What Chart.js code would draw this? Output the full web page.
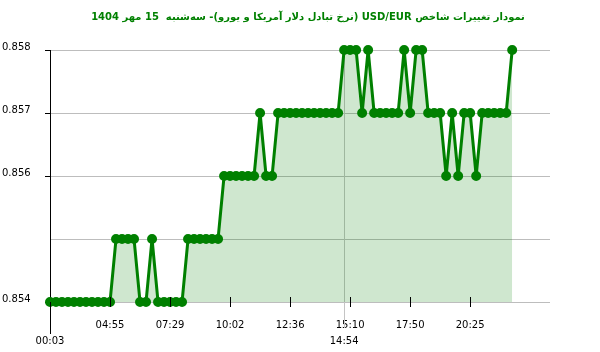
<!DOCTYPE html>
<html>
<head>
<meta charset="utf-8">
<script src="https://cdn.jsdelivr.net/npm/chart.js@4/dist/chart.umd.min.js"></script>
<style>
  html, body { margin: 0; padding: 0; background: #fff; }
  #wrap { width: 600px; height: 352px; }
</style>
</head>
<body>
<div id="wrap"><canvas id="usdEurChart"></canvas></div>
<script>
// values, one point per sample
var rates = [
  0.854, 0.854, 0.854, 0.854, 0.854, 0.854, 0.854, 0.854, 0.854, 0.854, 0.854,
  0.855, 0.855, 0.855, 0.855,
  0.854, 0.854,
  0.855,
  0.854, 0.854, 0.854, 0.854, 0.854,
  0.855, 0.855, 0.855, 0.855, 0.855, 0.855,
  0.856, 0.856, 0.856, 0.856, 0.856, 0.856,
  0.857,
  0.856, 0.856,
  0.857, 0.857, 0.857, 0.857, 0.857, 0.857, 0.857, 0.857, 0.857, 0.857, 0.857,
  0.858, 0.858, 0.858,
  0.857,
  0.858,
  0.857, 0.857, 0.857, 0.857, 0.857,
  0.858,
  0.857,
  0.858, 0.858,
  0.857, 0.857, 0.857,
  0.856,
  0.857,
  0.856,
  0.857, 0.857,
  0.856,
  0.857, 0.857, 0.857, 0.857, 0.857,
  0.858
];

// x axis labels (sample index -> time)
var tickIndexes = [0, 10, 20, 30, 40, 50, 60, 70];
var tickLabels = ['00:03', '04:55', '07:29', '10:02', '12:36', '15:10', '17:50', '20:25'];
var markerIndex = 49;
var markerLabel = '14:54';

// y axis
var yTicks = [0.854, 0.855, 0.856, 0.857, 0.858];
var yTickLabels = ['0.854', '', '0.856', '0.857', '0.858'];

var chartTitle = 'نمودار تغییرات شاخص USD/EUR (نرخ تبادل دلار آمریکا و یورو)- سه\u200cشنبه  15 مهر 1404';

var points = rates.map(function (v, i) { return { x: i, y: v }; });

var extras = {
  id: 'extras',
  beforeDatasetsDraw: function (chart) {
    var ctx = chart.ctx, xs = chart.scales.x, area = chart.chartArea;
    var px = Math.round(xs.getPixelForValue(markerIndex)) + 0.5;
    ctx.save();
    ctx.strokeStyle = '#c4c4c4';
    ctx.lineWidth = 1;
    ctx.beginPath();
    ctx.moveTo(px, area.top);
    ctx.lineTo(px, area.bottom + 26);
    ctx.stroke();
    ctx.restore();
  },
  afterDraw: function (chart) {
    var ctx = chart.ctx, xs = chart.scales.x, area = chart.chartArea;
    ctx.save();
    ctx.strokeStyle = '#000';
    ctx.lineWidth = 1;
    tickIndexes.forEach(function (v) {
      var px = Math.round(xs.getPixelForValue(v)) + 0.5;
      ctx.beginPath();
      if (v === 0) {
        ctx.moveTo(px, area.bottom);
        ctx.lineTo(px, area.bottom + 32);
      } else {
        ctx.moveTo(px, area.bottom - 5);
        ctx.lineTo(px, area.bottom + 5);
      }
      ctx.stroke();
    });
    // title
    ctx.fillStyle = '#008000';
    ctx.font = 'bold 10px "DejaVu Sans"';
    ctx.direction = 'rtl';
    ctx.textAlign = 'center';
    ctx.textBaseline = 'middle';
    ctx.fillText(chartTitle, 308, 17);
    ctx.restore();
  }
};

new Chart(document.getElementById('usdEurChart'), {
  type: 'line',
  data: {
    datasets: [{
      data: points,
      borderColor: '#008000',
      backgroundColor: 'rgba(0, 128, 0, 0.19)',
      pointBackgroundColor: '#008000',
      pointBorderColor: '#008000',
      borderWidth: 3,
      pointRadius: 3.5,
      pointHoverRadius: 3.5,
      fill: 'start',
      tension: 0,
      clip: false
    }]
  },
  options: {
    responsive: true,
    maintainAspectRatio: false,
    animation: false,
    events: [],
    layout: { padding: { left: 2, right: 50, top: 50, bottom: 0 } },
    plugins: { legend: { display: false }, tooltip: { enabled: false }, title: { display: false } },
    scales: {
      x: {
        type: 'linear',
        min: 0,
        max: 83.3,
        afterFit: function (s) { s.height = 50; },
        afterBuildTicks: function (s) {
          var list = tickIndexes.concat([markerIndex]).sort(function (a, b) { return a - b; });
          s.ticks = list.map(function (v) { return { value: v }; });
        },
        border: { display: false },
        grid: { display: false },
        ticks: {
          autoSkip: false,
          maxRotation: 0,
          padding: 7,
          color: '#000',
          font: { family: '"DejaVu Sans"', size: 10, lineHeight: 1.6 },
          callback: function (v) {
            if (v === 0) return ['', tickLabels[0]];
            if (v === markerIndex) return ['', markerLabel];
            var k = tickIndexes.indexOf(v);
            return k >= 0 ? tickLabels[k] : '';
          }
        }
      },
      y: {
        min: 0.854,
        max: 0.858,
        afterFit: function (s) { s.width = 48; },
        afterBuildTicks: function (s) {
          s.ticks = yTicks.map(function (v) { return { value: v }; });
        },
        border: { display: true, color: '#000', width: 1 },
        grid: {
          color: '#bdbdbd',
          tickLength: 5,
          tickColor: function (c) { return Math.abs(c.tick.value - 0.855) < 1e-6 ? 'rgba(0,0,0,0)' : '#000'; }
        },
        ticks: {
          crossAlign: 'far',
          labelOffset: -3,
          color: '#000',
          font: { family: '"DejaVu Sans"', size: 10 },
          callback: function (v) {
            var k = yTicks.findIndex(function (t) { return Math.abs(t - v) < 1e-6; });
            return k >= 0 ? yTickLabels[k] : '';
          }
        }
      }
    }
  },
  plugins: [extras]
});
</script>
</body>
</html>
